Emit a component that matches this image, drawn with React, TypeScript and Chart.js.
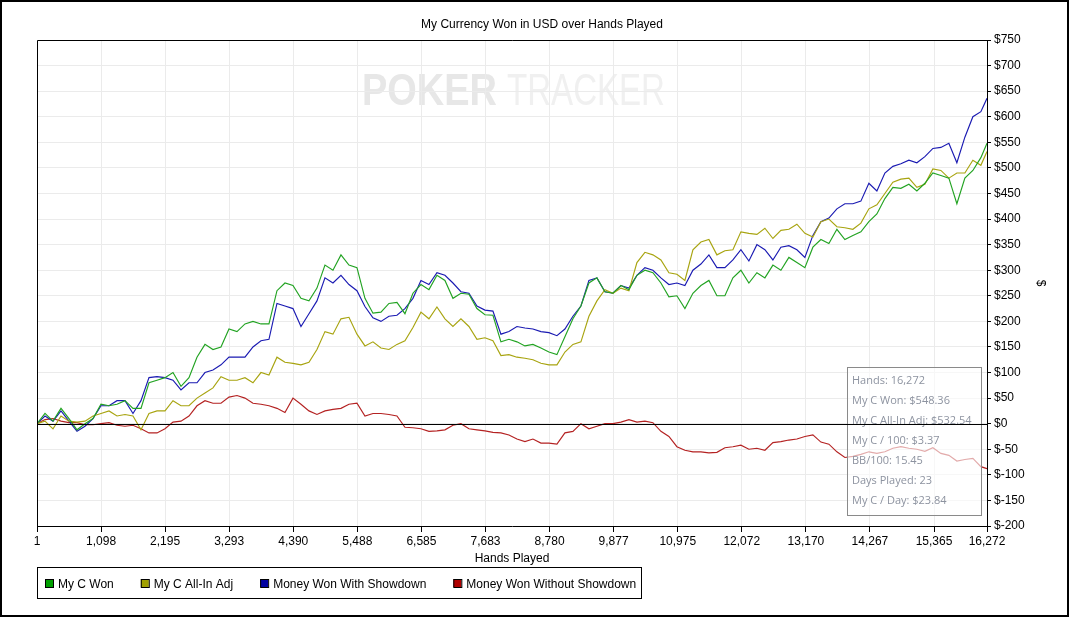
import React, { useEffect, useRef } from "react";
import { Chart, registerables } from "chart.js";

Chart.register(...registerables);

const TITLE = "My Currency Won in USD over Hands Played";
const X_TITLE = "Hands Played";
const Y_TITLE = "$";
const X_TICKS = [1, 1098, 2195, 3293, 4390, 5488, 6585, 7683, 8780, 9877, 10975, 12072, 13170, 14267, 15365, 16272];
const Y_MIN = -200;
const Y_MAX = 750;
const Y_STEP = 50;

const HANDS = [
  1, 138, 275, 412, 549, 686, 823, 960, 1097, 1234, 1371, 1508, 1645, 1782, 1919, 2056, 2193, 2330, 2467, 2604,
  2741, 2878, 3015, 3152, 3289, 3426, 3563, 3700, 3837, 3974, 4111, 4248, 4385, 4522, 4659, 4796, 4933, 5070, 5207, 5344,
  5481, 5618, 5755, 5892, 6029, 6166, 6303, 6440, 6577, 6714, 6851, 6988, 7125, 7262, 7399, 7536, 7673, 7810, 7947, 8084,
  8221, 8358, 8495, 8632, 8769, 8906, 9043, 9180, 9317, 9454, 9591, 9728, 9865, 10002, 10139, 10276, 10413, 10550, 10687, 10824,
  10961, 11098, 11235, 11372, 11509, 11646, 11783, 11920, 12057, 12194, 12331, 12468, 12605, 12742, 12879, 13016, 13153, 13290, 13427, 13564,
  13701, 13838, 13975, 14112, 14249, 14386, 14523, 14660, 14797, 14934, 15071, 15208, 15345, 15482, 15619, 15756, 15893, 16030, 16167, 16272,
];

const MY_C_WON = [
  0, 20, 5, 30, 10, -12, 0, 10, 38, 35, 38, 45, 30, 30, 80, 85, 90, 100, 73, 90,
  130, 155, 145, 150, 185, 180, 195, 200, 195, 195, 260, 275, 270, 245, 240, 265, 310, 300, 330, 310,
  305, 245, 216, 218, 235, 237, 215, 255, 272, 262, 290, 280, 245, 255, 253, 225, 213, 212, 160, 165,
  160, 152, 155, 148, 140, 135, 170, 205, 230, 275, 285, 258, 255, 270, 262, 290, 300, 295, 275, 248,
  250, 225, 255, 270, 280, 250, 250, 285, 300, 275, 295, 285, 310, 300, 325, 315, 305, 345, 360, 352,
  380, 360, 368, 375, 395, 410, 440, 462, 460, 468, 455, 470, 490, 485, 480, 430, 480, 495, 520, 548,
];

const MY_C_ALLIN_ADJ = [
  0, 5, -10, 15, 5, 3, 5, 15, 20, 25, 15, 18, 15, -12, 20, 25, 25, 45, 35, 35,
  50, 60, 70, 92, 85, 85, 90, 80, 100, 95, 130, 120, 118, 115, 120, 145, 180, 175, 205, 208,
  175, 152, 160, 148, 145, 155, 162, 188, 218, 205, 228, 205, 190, 205, 190, 165, 168, 162, 133, 135,
  130, 128, 125, 118, 115, 115, 140, 155, 160, 210, 240, 262, 255, 265, 260, 315, 335, 330, 320, 295,
  292, 280, 340, 355, 360, 330, 338, 340, 375, 372, 370, 382, 362, 378, 380, 390, 372, 365, 395, 400,
  385, 383, 380, 392, 420, 428, 450, 472, 478, 480, 462, 468, 498, 495, 480, 490, 490, 515, 505, 532,
];

const WON_WITH_SHOWDOWN = [
  0, 15, 5, 25, 5, -15, -5, 10, 35, 35, 45, 45, 20, 45, 90, 92, 90, 85, 66, 80,
  80, 100, 105, 115, 130, 130, 130, 150, 162, 165, 235, 230, 225, 190, 215, 240, 285, 275, 290, 272,
  260, 229, 207, 200, 210, 212, 225, 245, 280, 272, 295, 290, 275, 258, 255, 230, 222, 220, 175, 180,
  190, 187, 185, 180, 178, 172, 185, 210, 230, 280, 285, 258, 255, 270, 265, 290, 305, 300, 285, 272,
  275, 270, 300, 312, 330, 305, 305, 320, 340, 318, 350, 340, 320, 345, 348, 340, 325, 368, 395, 402,
  420, 430, 430, 435, 470, 455, 490, 503, 508, 515, 510, 522, 538, 540, 548, 510, 560, 600, 610, 636,
];

const WON_WITHOUT_SHOWDOWN = [
  0, 8, 10, 5, 2, 2, -2, -2, 0, 2, -3, -5, -3, -10, -18, -18, -10, 3, 5, 15,
  35, 45, 40, 40, 52, 55, 50, 40, 38, 35, 30, 22, 50, 38, 25, 18, 25, 28, 30, 38,
  40, 15, 20, 20, 18, 15, -7, -8, -10, -15, -14, -12, -3, 0, -10, -12, -14, -17, -18, -22,
  -30, -35, -30, -38, -38, -40, -18, -15, 0, -10, -5, 0, 0, 3, 8, 3, 5, 2, -15, -25,
  -45, -52, -55, -55, -57, -56, -47, -45, -42, -50, -48, -52, -37, -35, -32, -30, -25, -22, -36, -40,
  -55, -66, -64, -60, -55, -58, -55, -48, -45, -48, -50, -54, -47, -58, -62, -73, -70, -68, -84, -88,
];

const SERIES_NAMES = ["My C Won", "My C All-In Adj", "Money Won With Showdown", "Money Won Without Showdown"];
const SERIES_VALUES = [MY_C_WON, MY_C_ALLIN_ADJ, WON_WITH_SHOWDOWN, WON_WITHOUT_SHOWDOWN];
const LINE_COLORS = ["#22a322", "#a8a410", "#1a1ab2", "#b42222"];
const LEGEND_COLORS = ["#00a000", "#a0a000", "#0000a0", "#b00000"];

const INFO_LINES = [
  "Hands: 16,272",
  "My C Won: $548.36",
  "My C All-In Adj: $532.54",
  "My C / 100: $3.37",
  "BB/100: 15.45",
  "Days Played: 23",
  "My C / Day: $23.84",
];
const WATERMARK_BOLD = "POKER";
const WATERMARK_LIGHT = "TRACKER";

const W = 1070;
const H = 618;
const PL = 37;
const PT = 40;
const PR = 987;
const PB = 526;
const FONT = "'Liberation Sans', Arial, sans-serif";

export default function App() {
  const ref = useRef<HTMLCanvasElement>(null);

  useEffect(() => {
    const canvas = ref.current;
    if (!canvas) return;

    const overlay = {
      id: "overlay",
      beforeDraw(chart: any) {
        const ctx = chart.ctx;
        ctx.save();
        ctx.fillStyle = "#ffffff";
        ctx.fillRect(0, 0, W, H);
        ctx.textBaseline = "alphabetic";
        ctx.textAlign = "left";
        ctx.font = `bold 44px ${FONT}`;
        let m = ctx.measureText(WATERMARK_BOLD).width;
        ctx.save();
        ctx.translate(362, 105);
        ctx.scale(135 / m, 1);
        ctx.fillStyle = "#e7e7e7";
        ctx.fillText(WATERMARK_BOLD, 0, 0);
        ctx.restore();
        ctx.font = `44px ${FONT}`;
        m = ctx.measureText(WATERMARK_LIGHT).width;
        ctx.save();
        ctx.translate(507, 105);
        ctx.scale(158 / m, 1);
        ctx.fillStyle = "#f0f0f0";
        ctx.fillText(WATERMARK_LIGHT, 0, 0);
        ctx.restore();
        ctx.restore();
      },
      afterDatasetsDraw(chart: any) {
        const ctx = chart.ctx;
        const area = chart.chartArea;
        ctx.save();
        ctx.fillStyle = "rgba(255,255,255,0.62)";
        ctx.fillRect(847.5, 367.5, 134, 148);
        ctx.strokeStyle = "#8a8a8a";
        ctx.lineWidth = 1;
        ctx.strokeRect(847.5, 367.5, 134, 148);
        ctx.fillStyle = "#8d93a0";
        ctx.font = "11px 'Open Sans', sans-serif";
        ctx.textAlign = "left";
        ctx.textBaseline = "alphabetic";
        INFO_LINES.forEach((t, i) => ctx.fillText(t, 852, 384 + i * 20));
        const y0 = Math.round(chart.scales.y.getPixelForValue(0)) + 0.5;
        ctx.strokeStyle = "#000";
        ctx.beginPath();
        ctx.moveTo(area.left, y0);
        ctx.lineTo(area.right, y0);
        ctx.stroke();
        ctx.beginPath();
        ctx.moveTo(area.left + 0.5, area.bottom);
        ctx.lineTo(area.left + 0.5, area.top + 0.5);
        ctx.lineTo(area.right, area.top + 0.5);
        ctx.stroke();
        ctx.restore();
      },
      afterDraw(chart: any) {
        const ctx = chart.ctx;
        const area = chart.chartArea;
        ctx.save();
        ctx.fillStyle = "#000";
        ctx.font = `12px ${FONT}`;
        ctx.textAlign = "center";
        ctx.textBaseline = "alphabetic";
        ctx.fillText(TITLE, 542, 27.5);
        ctx.fillText(X_TITLE, (area.left + area.right) / 2, 561.5);
        ctx.save();
        ctx.translate(1040, (area.top + area.bottom) / 2);
        ctx.rotate(Math.PI / 2);
        ctx.textBaseline = "middle";
        ctx.fillText(Y_TITLE, 0, 0);
        ctx.restore();
        // legend
        ctx.strokeStyle = "#000";
        ctx.lineWidth = 1;
        ctx.strokeRect(37.5, 567.5, 604, 31);
        ctx.textAlign = "left";
        let x = 45;
        SERIES_NAMES.forEach((name, i) => {
          ctx.fillStyle = LEGEND_COLORS[i];
          ctx.fillRect(x, 579, 8, 8);
          ctx.strokeStyle = "#000";
          ctx.strokeRect(x + 0.5, 579.5, 8, 8);
          ctx.fillStyle = "#000";
          const tx = x + 13;
          ctx.fillText(name, tx, 588);
          x = tx + ctx.measureText(name).width + 27;
        });
        ctx.lineWidth = 2;
        ctx.strokeRect(1, 1, 1067, 615);
        ctx.restore();
      },
    };

    const chart = new Chart(canvas, {
      type: "line",
      data: {
        datasets: SERIES_NAMES.map((name, i) => ({
          label: name,
          data: HANDS.map((h, j) => ({ x: h, y: SERIES_VALUES[i][j] })),
          borderColor: LINE_COLORS[i],
          backgroundColor: LINE_COLORS[i],
          borderWidth: 1.15,
          pointRadius: 0,
          tension: 0,
          fill: false,
        })),
      },
      options: {
        responsive: false,
        animation: false,
        devicePixelRatio: 1,
        events: [],
        layout: { padding: { left: PL, top: PT, right: 0, bottom: 0 } },
        plugins: {
          legend: { display: false },
          tooltip: { enabled: false },
          title: { display: false },
        },
        scales: {
          x: {
            type: "linear",
            min: 1,
            max: 16272,
            afterBuildTicks: (s: any) => {
              s.ticks = X_TICKS.map((v) => ({ value: v }));
            },
            afterFit: (s: any) => {
              s.height = H - PB;
            },
            ticks: {
              autoSkip: false,
              maxRotation: 0,
              minRotation: 0,
              color: "#000",
              padding: 2,
              font: { family: FONT, size: 12 },
              callback: (v: any) => Number(v).toLocaleString("en-US"),
            },
            grid: { color: "#ebebeb", lineWidth: 1, tickColor: "#000", tickLength: 6, drawTicks: true },
            border: { display: true, color: "#000", width: 1 },
          },
          y: {
            type: "linear",
            position: "right",
            min: Y_MIN,
            max: Y_MAX,
            afterFit: (s: any) => {
              s.width = W - PR;
            },
            ticks: {
              stepSize: Y_STEP,
              color: "#000",
              padding: 3,
              font: { family: FONT, size: 12 },
              callback: (v: any) => "$" + v,
            },
            grid: { color: "#ebebeb", lineWidth: 1, tickColor: "#000", tickLength: 4, drawTicks: true },
            border: { display: true, color: "#000", width: 1 },
          },
        },
      },
      plugins: [overlay],
    });

    return () => chart.destroy();
  }, []);

  return (
    <div style={{ position: "fixed", left: 0, top: 0, width: W, height: H, background: "#fff" }}>
      <canvas ref={ref} width={W} height={H} style={{ display: "block", width: W, height: H }} />
    </div>
  );
}
